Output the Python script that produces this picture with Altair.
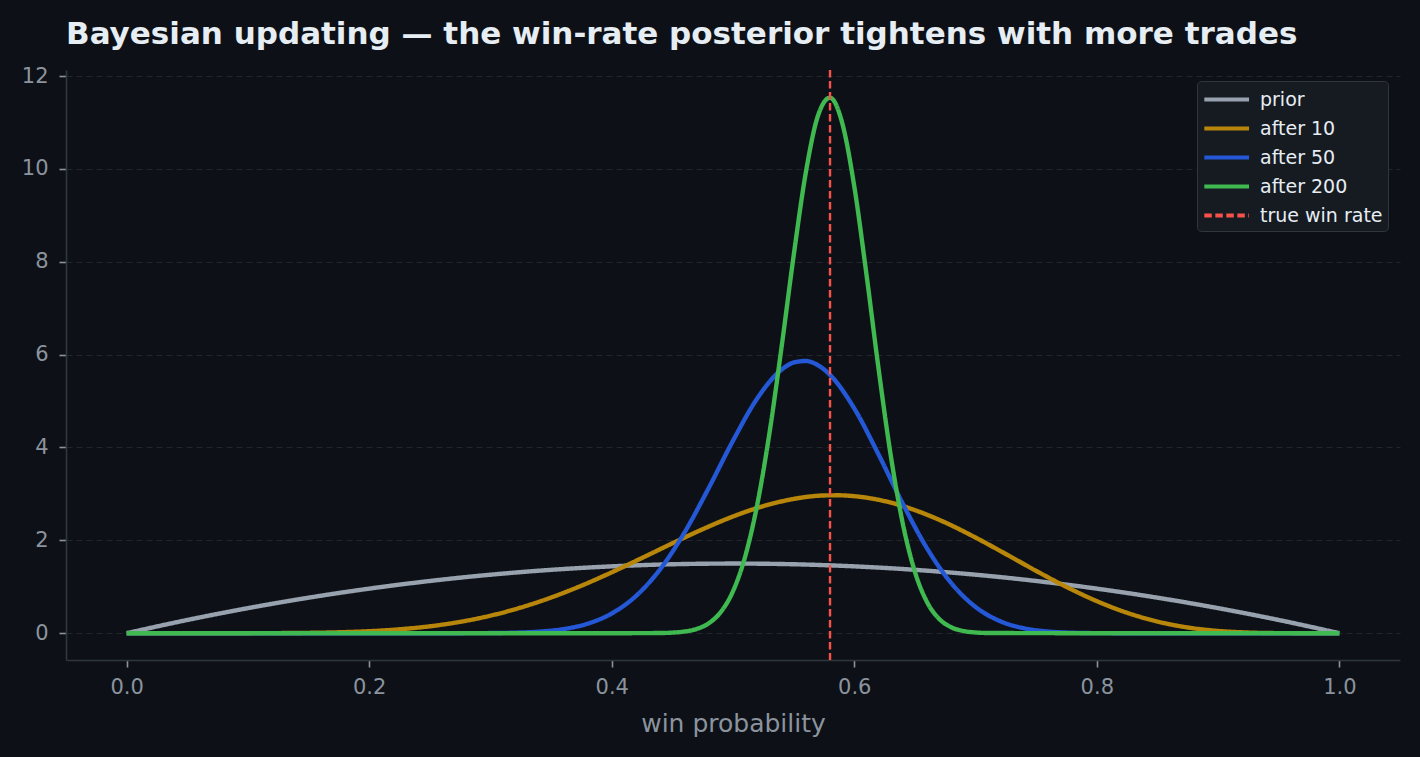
import altair as alt
import pandas as pd

TITLE = "Bayesian updating — the win-rate posterior tightens with more trades"
X_LABEL = "win probability"
SERIES = ["prior", "after 10", "after 50", "after 200", "true win rate"]
COLORS = ["#97a2ae", "#b8860b", "#2458d6", "#3fb950", "#f85149"]
DASHES = [[1, 0], [1, 0], [1, 0], [1, 0], [7.5, 3.5]]
TRUE_WIN_RATE = 0.58
X_TICKS = [0.0, 0.2, 0.4, 0.6, 0.8, 1.0]
Y_TICKS = [0, 2, 4, 6, 8, 10, 12]

PRIOR_X = [0.0, 0.05, 0.1, 0.15, 0.2, 0.25, 0.3, 0.35, 0.4, 0.45, 0.5,
           0.55, 0.6, 0.65, 0.7, 0.75, 0.8, 0.85, 0.9, 0.95, 1.0]
PRIOR_Y = [0.0, 0.285, 0.54, 0.765, 0.96, 1.125, 1.26, 1.365, 1.44, 1.485, 1.5,
           1.485, 1.44, 1.365, 1.26, 1.125, 0.96, 0.765, 0.54, 0.285, 0.0]

AFTER10_X = [0.0, 0.025, 0.05, 0.075, 0.1, 0.125, 0.15, 0.175, 0.2, 0.225,
             0.25, 0.275, 0.3, 0.325, 0.35, 0.375, 0.4, 0.425, 0.45, 0.475,
             0.5, 0.525, 0.55, 0.5625, 0.575, 0.5875, 0.6, 0.6125, 0.625, 0.65, 0.675, 0.7, 0.725,
             0.75, 0.775, 0.8, 0.825, 0.85, 0.875, 0.9, 0.925, 0.95, 0.975, 1.0]
AFTER10_Y = [0.0, 0.0, 0.0, 0.0001, 0.0006, 0.0025, 0.0078, 0.0198, 0.043, 0.084,
             0.149, 0.245, 0.378, 0.553, 0.769, 1.024, 1.312, 1.621, 1.936, 2.240,
             2.514, 2.737, 2.892, 2.941, 2.967, 2.970, 2.951, 2.909, 2.845, 2.651, 2.384, 2.060, 1.705,
             1.342, 0.997, 0.691, 0.440, 0.251, 0.123, 0.049, 0.014, 0.002, 0.0001, 0.0]

AFTER50_X = [0.0, 0.1, 0.2, 0.26, 0.28, 0.3, 0.32, 0.34, 0.36, 0.38, 0.4, 0.42,
             0.44, 0.46, 0.48, 0.5, 0.52, 0.54, 0.55, 0.56, 0.57, 0.58, 0.6, 0.62,
             0.64, 0.66, 0.68, 0.7, 0.72, 0.74, 0.76, 0.78, 0.8, 0.82, 0.9, 1.0]
AFTER50_Y = [0.0, 0.0, 0.0, 0.0002, 0.0009, 0.0035, 0.0117, 0.034, 0.088, 0.204, 0.425, 0.802,
             1.380, 2.169, 3.128, 4.146, 5.057, 5.676, 5.829, 5.863, 5.773, 5.564, 4.841, 3.851,
             2.789, 1.828, 1.078, 0.566, 0.262, 0.106, 0.036, 0.010, 0.002, 0.0005, 0.0, 0.0]

AFTER200_X = [0.0, 0.2, 0.4, 0.44, 0.45, 0.46, 0.47, 0.48, 0.49, 0.5, 0.51, 0.52,
              0.53, 0.54, 0.55, 0.56, 0.57, 0.58, 0.59, 0.6, 0.61, 0.62, 0.63, 0.64,
              0.65, 0.66, 0.67, 0.68, 0.69, 0.7, 0.71, 0.8, 1.0]
AFTER200_Y = [0.0, 0.0, 0.0, 0.004, 0.013, 0.036, 0.092, 0.214, 0.459, 0.905, 1.649, 2.770,
              4.299, 6.152, 8.128, 9.913, 11.140, 11.532, 10.994, 9.624, 7.737, 5.703, 3.842, 2.363,
              1.323, 0.671, 0.308, 0.128, 0.047, 0.016, 0.005, 0.0, 0.0]

FONT = "DejaVu Sans"
BG = "#0d1117"
MUTED = "#8b949e"
SPINE = "#30363d"

rows = []
for name, xs, ys in [("prior", PRIOR_X, PRIOR_Y), ("after 10", AFTER10_X, AFTER10_Y),
                     ("after 50", AFTER50_X, AFTER50_Y), ("after 200", AFTER200_X, AFTER200_Y)]:
    for x, y in zip(xs, ys):
        rows.append({"p": x, "density": y, "series": name})
df = pd.DataFrame(rows)
rule_df = pd.DataFrame({"p": [TRUE_WIN_RATE], "series": ["true win rate"]})

legend = alt.Legend(
    orient="none", legendX=1131, legendY=11, title=None,
    fillColor="#161b22", strokeColor=SPINE, cornerRadius=4, padding=5,
    labelFontSize=19, labelColor="#e6edf3", labelFont=FONT, labelLimit=400,
    symbolType="M-1,0L3,0", symbolSize=500, symbolStrokeWidth=4,
    symbolFillColor="transparent",
    rowPadding=5, labelOffset=31,
)
color = alt.Color("series:N", scale=alt.Scale(domain=SERIES, range=COLORS), legend=legend)
dash = alt.StrokeDash("series:N", scale=alt.Scale(domain=SERIES, range=DASHES), legend=legend)

x_enc = alt.X("p:Q", scale=alt.Scale(domain=[-0.05, 1.05], nice=False, zero=False),
              axis=alt.Axis(values=X_TICKS, format=".1f", title=X_LABEL, grid=False,
                            labelFontSize=21, labelColor=MUTED, labelPadding=9,
                            tickColor=MUTED, tickSize=7, tickWidth=1.6,
                            domainColor=SPINE, domainWidth=1.6,
                            titleFontSize=25, titleColor=MUTED, titleFontWeight="normal",
                            titlePadding=14, labelFont=FONT, titleFont=FONT))
y_enc = alt.Y("density:Q", scale=alt.Scale(domain=[-0.577, 12.13], nice=False, zero=False),
              axis=alt.Axis(values=Y_TICKS, format="d", title=None, grid=True,
                            gridColor="#21262d", gridDash=[6, 4], gridWidth=1.2,
                            labelFontSize=21, labelColor=MUTED, labelPadding=11,
                            tickColor=MUTED, tickSize=7, tickWidth=1.6,
                            domainColor=SPINE, domainWidth=1.6, labelFont=FONT))

base = alt.Chart(df)
layers = []
for s in SERIES[:4]:
    layers.append(
        base.transform_filter(alt.datum.series == s)
        .mark_line(strokeWidth=4.4, interpolate="monotone")
        .encode(x=x_enc, y=y_enc, color=color, strokeDash=dash)
    )
rule = alt.Chart(rule_df).mark_rule(strokeWidth=2.4).encode(
    x=alt.X("p:Q"), color=color, strokeDash=dash)
layers.append(rule)

chart = alt.layer(*layers).properties(
    width=1334, height=590,
    title=alt.TitleParams(TITLE, anchor="start", frame="group", fontSize=31, fontWeight="bold",
                          color="#e6edf3", font=FONT, baseline="alphabetic", offset=-10),
    autosize=alt.AutoSizeParams(type="none"),
    padding={"left": 66, "top": 70, "right": 20, "bottom": 97},
    background=BG,
).configure_view(stroke=None)

chart.save("out.html", embed_options={"renderer": "svg", "actions": False})
